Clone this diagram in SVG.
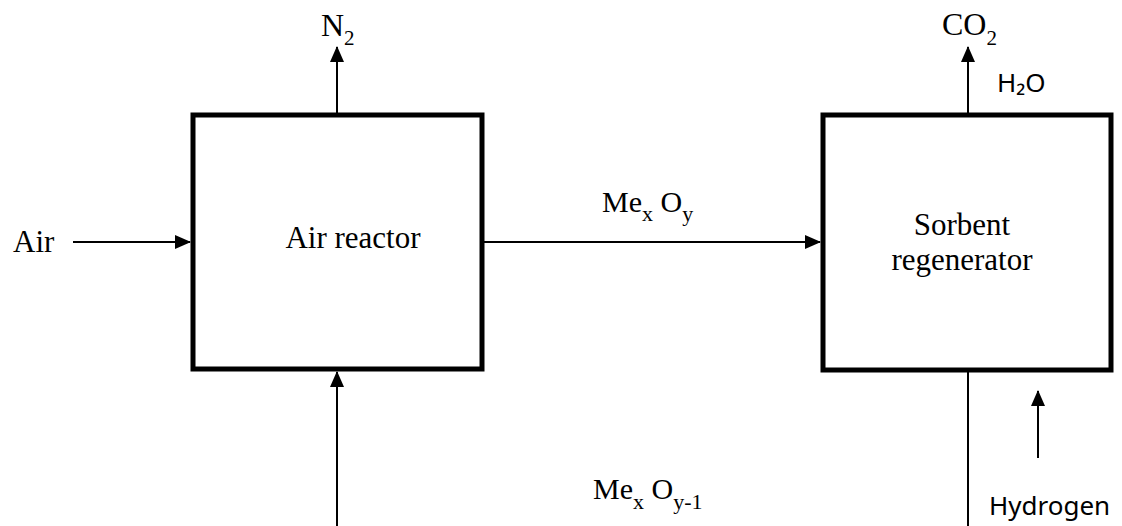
<svg xmlns="http://www.w3.org/2000/svg" width="1122" height="526" viewBox="0 0 1122 526">
<style>
.box{fill:#fff;stroke:#000;stroke-width:5}
.ln{fill:none;stroke:#000;stroke-width:2}
.serif{font-family:"Liberation Serif","Times New Roman",serif;fill:#000}
.sans{font-family:"Noto Sans","Open Sans",sans-serif;fill:#000}
</style>
<defs>
<marker id="ah" markerUnits="userSpaceOnUse" markerWidth="16" markerHeight="16" viewBox="0 0 16 16" refX="15" refY="8" orient="auto">
<path d="M0,1 L16,8 L0,15 Z" fill="#000"/>
</marker>
</defs>
<rect width="1122" height="526" fill="#fff"/>
<g id="air-reactor">
<rect class="box" x="193" y="115" width="289" height="254"/>
<text class="serif" x="353" y="248" font-size="31" text-anchor="middle">Air reactor</text>
</g>
<g id="sorbent-regenerator">
<rect class="box" x="823" y="115" width="288" height="255"/>
<text class="serif" x="962" y="235" font-size="31" text-anchor="middle">Sorbent</text>
<text class="serif" x="962" y="270" font-size="31" text-anchor="middle">regenerator</text>
</g>
<g id="connectors">
<line class="ln" x1="73" y1="242" x2="190" y2="242" marker-end="url(#ah)"/>
<line class="ln" x1="337" y1="113" x2="337" y2="47" marker-end="url(#ah)"/>
<line class="ln" x1="484" y1="242" x2="820" y2="242" marker-end="url(#ah)"/>
<line class="ln" x1="337" y1="526" x2="337" y2="372" marker-end="url(#ah)"/>
<line class="ln" x1="968" y1="113" x2="968" y2="47" marker-end="url(#ah)"/>
<line class="ln" x1="968" y1="372" x2="968" y2="526"/>
<line class="ln" x1="1038" y1="458" x2="1038" y2="391" marker-end="url(#ah)"/>
</g>
<g id="labels">
<text class="serif" x="13" y="252" font-size="31">Air</text>
<text class="serif" x="321" y="36" font-size="32">N<tspan font-size="21" dy="9">2</tspan></text>
<text class="serif" x="942" y="35" font-size="32">CO<tspan font-size="21" dy="10">2</tspan></text>
<text class="sans" x="997" y="92" font-size="26">H₂O</text>
<text class="serif" x="602" y="212" font-size="30">Me<tspan font-size="22" dy="9">x</tspan><tspan dy="-9"> O</tspan><tspan font-size="22" dy="9">y</tspan></text>
<text class="serif" x="593" y="499" font-size="30">Me<tspan font-size="22" dy="10">x</tspan><tspan dy="-10"> O</tspan><tspan font-size="22" dy="10">y-1</tspan></text>
<text class="sans" x="989" y="515" font-size="26">Hydrogen</text>
</g>
</svg>
